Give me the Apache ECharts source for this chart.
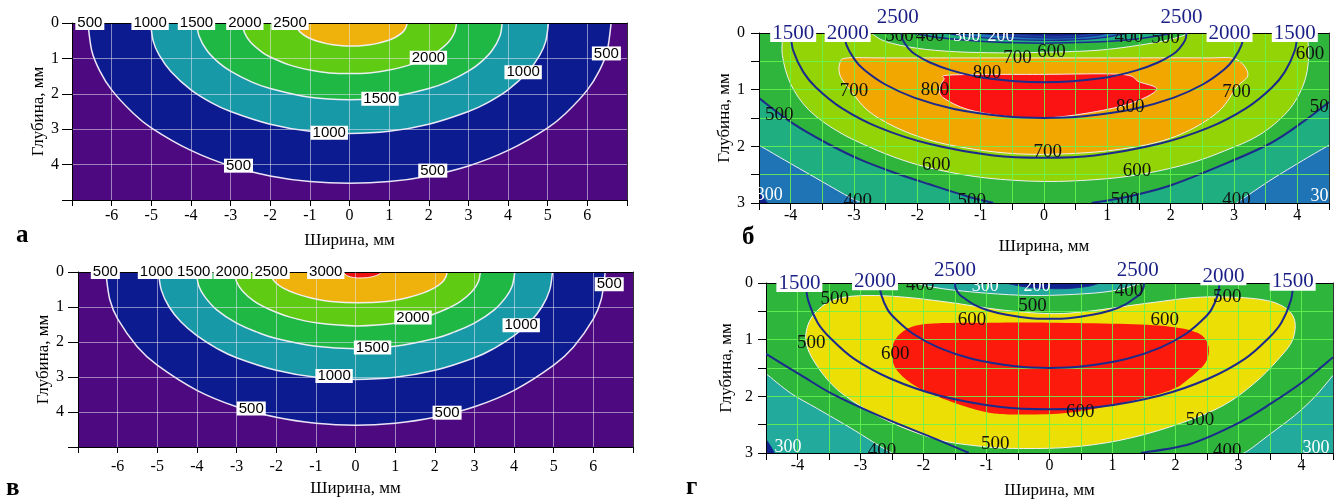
<!DOCTYPE html>
<html><head><meta charset="utf-8">
<script src="https://cdn.jsdelivr.net/npm/echarts@6/dist/echarts.min.js"></script>
<style>html,body{margin:0;padding:0;background:#fff}#c{width:1335px;height:503px}</style>
</head><body><div id="c"></div>
<script>
// ---------------- DATA (x = Ширина, мм ; y = Глубина, мм) ----------------
// Panel а : isotherm contours (x, depth)
const A_C500  = [[-6.6,0],[-6.5,0.79],[-6.3,1.35],[-6.0,1.89],[-5.5,2.5],[-5.0,2.96],[-4.0,3.6],[-3.0,4.04],[-2.0,4.32],[-1.0,4.48],[0,4.53],[1.0,4.48],[2.0,4.32],[3.0,4.04],[4.0,3.6],[5.0,2.96],[5.5,2.5],[6.0,1.89],[6.3,1.35],[6.5,0.79],[6.6,0]];
const A_C1000 = [[-5.02,0],[-4.95,0.52],[-4.8,0.91],[-4.5,1.38],[-4.0,1.89],[-3.5,2.24],[-3.0,2.5],[-2.0,2.86],[-1.0,3.06],[0,3.12],[1.0,3.06],[2.0,2.86],[3.0,2.5],[3.5,2.24],[4.0,1.89],[4.5,1.38],[4.8,0.91],[4.95,0.52],[5.02,0]];
const A_C1500 = [[-3.85,0],[-3.8,0.35],[-3.6,0.77],[-3.3,1.12],[-3.0,1.36],[-2.5,1.65],[-2.0,1.85],[-1.0,2.1],[0,2.17],[1.0,2.1],[2.0,1.85],[2.5,1.65],[3.0,1.36],[3.3,1.12],[3.6,0.77],[3.8,0.35],[3.85,0]];
const A_C2000 = [[-2.7,0],[-2.65,0.27],[-2.5,0.54],[-2.2,0.83],[-2.0,0.96],[-1.5,1.19],[-1.0,1.33],[-0.5,1.41],[0,1.43],[0.5,1.41],[1.0,1.33],[1.5,1.19],[2.0,0.96],[2.2,0.83],[2.5,0.54],[2.65,0.27],[2.7,0]];
const A_C2500 = [[-1.36,0],[-1.32,0.13],[-1.25,0.25],[-1.05,0.41],[-0.85,0.5],[-0.55,0.59],[-0.25,0.635],[0.05,0.65],[0.35,0.635],[0.65,0.59],[0.95,0.5],[1.15,0.41],[1.35,0.25],[1.42,0.13],[1.46,0]];
const A_LABELS = [[-6.55,0,500],[-5.03,0,1000],[-3.86,0,1500],[-2.64,0,2000],[-1.5,0,2500],[1.99,0.98,2000],[4.38,1.39,1000],[6.48,0.86,500],[0.77,2.14,1500],[-0.51,3.1,1000],[-2.8,4.03,500],[2.1,4.17,500]];

// Panel в
const V_C500  = [[-6.3,0],[-6.2,0.78],[-6.0,1.34],[-5.5,2.14],[-5.0,2.66],[-4.0,3.38],[-3.0,3.85],[-2.0,4.15],[-1.0,4.32],[0,4.38],[1.0,4.32],[2.0,4.15],[3.0,3.85],[4.0,3.38],[5.0,2.66],[5.5,2.14],[6.0,1.34],[6.2,0.78],[6.3,0]];
const V_C1000 = [[-4.97,0],[-4.9,0.51],[-4.7,1.0],[-4.4,1.43],[-4.0,1.82],[-3.5,2.18],[-3.0,2.45],[-2.0,2.81],[-1.0,3.01],[0,3.07],[1.0,3.01],[2.0,2.81],[3.0,2.45],[3.5,2.18],[4.0,1.82],[4.4,1.43],[4.7,1.0],[4.9,0.51],[4.97,0]];
const V_C1500 = [[-4.02,0],[-3.95,0.41],[-3.8,0.71],[-3.5,1.08],[-3.0,1.46],[-2.5,1.71],[-2.0,1.9],[-1.0,2.12],[0,2.19],[1.0,2.12],[2.0,1.9],[2.5,1.71],[3.0,1.46],[3.5,1.08],[3.8,0.71],[3.95,0.41],[4.02,0]];
const V_C2000 = [[-3.05,0],[-3.0,0.28],[-2.85,0.54],[-2.55,0.84],[-2.15,1.08],[-1.65,1.29],[-0.95,1.46],[0.05,1.54],[1.05,1.46],[1.75,1.29],[2.25,1.08],[2.65,0.84],[2.95,0.54],[3.1,0.28],[3.15,0]];
const V_C2500 = [[-2.15,0],[-2.12,0.14],[-2.02,0.3],[-1.82,0.46],[-1.52,0.61],[-1.12,0.74],[-0.62,0.84],[0.08,0.88],[0.78,0.84],[1.28,0.74],[1.68,0.61],[1.98,0.46],[2.18,0.3],[2.28,0.14],[2.31,0]];
const V_C3000 = [[-0.3,0],[-0.25,0.08],[-0.13,0.14],[0.05,0.17],[0.3,0.16],[0.5,0.11],[0.62,0.05],[0.66,0]];
const V_LABELS = [[-6.31,0,500],[-5.02,0,1000],[-4.08,0,1500],[-3.11,0,2000],[-2.13,0,2500],[-0.75,0,3000],[1.45,1.3,2000],[4.18,1.52,1000],[6.4,0.35,500],[0.43,2.16,1500],[-0.54,2.97,1000],[-2.63,3.9,500],[2.31,4.02,500]];

// Panel б : filled field contours
const B_CORNER_L = [[-4.5,3]];
const B_CORNER_R = [[4.5,3]];
const B_C500L = [[-4.5,1.15],[-3.96,1.6],[-3.42,1.95],[-2.89,2.24],[-2.35,2.47],[-1.81,2.67],[-1.22,2.88],[-0.8,3.0]];
const B_C500R = [[0.75,3.0],[1.28,2.9],[1.97,2.7],[2.77,2.35],[3.57,1.95],[4.1,1.56],[4.5,1.22]];
const B_C400L = [[-4.5,1.98],[-4.1,2.24],[-3.6,2.56],[-3.1,2.88],[-2.88,3.0]];
const B_C400R = [[3.04,3.0],[3.2,2.88],[3.6,2.58],[4.1,2.24],[4.5,1.98]];
const B_C300L = [[-4.5,2.82],[-4.42,2.92],[-4.36,3.0]];
const B_C600  = [[-4.12,0],[-4.13,0.4],[-4.0,0.9],[-3.72,1.35],[-3.28,1.72],[-2.78,2.0],[-2.24,2.24],[-1.65,2.42],[-0.9,2.56],[0,2.62],[0.9,2.58],[1.6,2.48],[2.3,2.3],[2.85,2.08],[3.4,1.8],[3.85,1.38],[4.1,0.9],[4.18,0.42],[4.15,0]];
const B_LENS600 = [[-2.73,0],[-2.5,0.15],[-2.0,0.27],[-1.4,0.33],[-0.7,0.35],[0,0.34],[0.9,0.3],[1.7,0.18],[2.1,0.08],[2.3,0]];
const B_C700  = [[-3.1,0.44],[-3.22,0.52],[-3.22,0.75],[-3.05,1.02],[-2.78,1.37],[-2.35,1.66],[-1.81,1.89],[-1.22,2.03],[-0.58,2.12],[0.07,2.14],[0.91,2.09],[1.71,1.95],[2.29,1.72],[2.77,1.37],[3.04,0.96],[3.22,0.73],[3.02,0.46],[2.5,0.44],[1.0,0.44],[-1.0,0.44],[-2.5,0.44]];
const B_C800  = [[-1.45,0.74],[0,0.73],[1.22,0.73],[1.5,0.86],[1.78,1.0],[1.35,1.25],[0.65,1.42],[0,1.5],[-0.6,1.47],[-1.2,1.35],[-1.58,1.15],[-1.65,1.0],[-1.58,0.82]];
const B_L500 = [[-2.1,0],[-1.6,0.09],[-0.8,0.16],[0,0.18],[0.8,0.16],[1.5,0.1],[2.05,0]];
const B_L400 = [[-1.6,0],[-1.0,0.08],[0,0.13],[0.8,0.1],[1.35,0]];
const B_L300 = [[-1.05,0],[-0.5,0.06],[0.2,0.09],[0.75,0.05],[1.0,0]];
const B_L200 = [[-0.55,0],[0,0.05],[0.5,0.04],[0.75,0]];
const B_N1500 = [[-4.0,0],[-3.96,0.31],[-3.8,0.69],[-3.6,0.96],[-3.2,1.32],[-2.6,1.67],[-1.8,1.96],[-0.8,2.16],[0,2.2],[0.8,2.16],[1.8,1.96],[2.6,1.67],[3.2,1.32],[3.6,0.96],[3.8,0.69],[3.96,0.31],[4.0,0]];
const B_N2000 = [[-3.15,0],[-3.12,0.21],[-2.99,0.47],[-2.84,0.65],[-2.52,0.9],[-2.05,1.14],[-1.42,1.34],[-0.63,1.47],[0,1.5],[0.63,1.47],[1.42,1.34],[2.05,1.14],[2.52,0.9],[2.84,0.65],[2.99,0.47],[3.12,0.21],[3.15,0]];
const B_N2500 = [[-2.25,0],[-2.23,0.12],[-2.14,0.27],[-2.03,0.38],[-1.8,0.52],[-1.46,0.66],[-1.01,0.78],[-0.45,0.85],[0,0.87],[0.45,0.85],[1.01,0.78],[1.46,0.66],[1.8,0.52],[2.03,0.38],[2.14,0.27],[2.23,0.12],[2.25,0]];
const B_LABELS_BLACK = [[-4.18,1.44,500],[-3.0,1.02,700],[-1.72,1.0,800],[-0.9,0.7,800],[-0.42,0.45,700],[0.12,0.33,600],[-1.7,2.33,600],[-2.94,2.96,400],[-1.14,2.96,500],[1.36,1.31,800],[3.04,1.05,700],[4.2,0.37,600],[4.42,1.31,500],[0.06,2.1,700],[1.47,2.43,600],[1.28,2.94,500],[3.04,2.95,400],[-2.28,0.05,500],[-1.8,0.05,400],[1.34,0.07,400],[1.92,0.09,500]];
const B_LABELS_WHITE = [[-4.34,2.87,300],[4.42,2.88,300],[-1.22,0.05,300],[-0.68,0.05,200]];
const B_LABELS_NAVY = [[-3.96,0,1500],[-3.1,0,2000],[-2.31,-0.28,2500],[2.17,-0.28,2500],[2.93,0,2000],[3.96,0,1500]];

// Panel г
const G_CORNER_L = [[-4.5,3]];
const G_CORNER_R = [[4.5,3]];
const G_C400L = [[-4.5,1.6],[-4.1,1.95],[-3.68,2.22],[-3.14,2.57],[-2.72,2.86],[-2.5,3.0]];
const G_C400R = [[3.08,3.0],[3.19,2.93],[3.51,2.66],[3.89,2.34],[4.21,2.01],[4.5,1.63]];
const G_C300L = [[-4.5,2.75],[-4.42,2.88],[-4.36,3.0]];
const G_NAVYL = [[-4.5,1.25],[-3.94,1.63],[-3.41,1.98],[-2.61,2.39],[-1.81,2.75],[-1.28,3.0]];
const G_NAVYR = [[1.45,3.0],[2.23,2.84],[2.98,2.48],[3.51,2.13],[4.05,1.72],[4.5,1.31]];
const G_C500 = [[-3.86,1.07],[-3.82,0.7],[-3.62,0.42],[-3.35,0.27],[-2.9,0.22],[-2.3,0.25],[-1.6,0.34],[-0.8,0.47],[0,0.54],[0.6,0.5],[1.6,0.35],[2.4,0.25],[3.2,0.27],[3.65,0.38],[3.88,0.62],[3.86,1.0],[3.62,1.36],[3.24,1.78],[2.71,2.19],[1.91,2.54],[1.1,2.78],[0.3,2.9],[-0.5,2.92],[-1.02,2.89],[-1.71,2.78],[-2.35,2.54],[-2.88,2.25],[-3.36,1.89],[-3.68,1.48]];
const G_C600 = [[-2.5,1.3],[-2.45,1.0],[-2.2,0.78],[-1.76,0.71],[-0.8,0.7],[0,0.7],[1.1,0.72],[1.91,0.77],[2.35,0.88],[2.52,1.1],[2.48,1.4],[2.2,1.7],[1.9,1.9],[1.1,2.13],[0.3,2.29],[-0.5,2.32],[-1.0,2.28],[-1.55,2.1],[-2.08,1.85],[-2.4,1.57]];
const G_L400 = [[-2.14,0],[-1.7,0.1],[-1.0,0.18],[-0.3,0.22],[0.4,0.2],[1.0,0.14],[1.47,0]];
const G_L300 = [[-0.7,0],[-0.3,0.08],[0.2,0.1],[0.6,0.06],[0.8,0]];
const G_N1500 = [[-3.87,0],[-3.83,0.31],[-3.68,0.7],[-3.48,0.97],[-3.1,1.34],[-2.52,1.69],[-1.74,1.99],[-0.77,2.19],[0,2.23],[0.77,2.19],[1.74,1.99],[2.52,1.69],[3.1,1.34],[3.48,0.97],[3.68,0.7],[3.83,0.31],[3.87,0]];
const G_N2000 = [[-2.7,0],[-2.67,0.21],[-2.57,0.47],[-2.43,0.65],[-2.16,0.9],[-1.76,1.14],[-1.22,1.34],[-0.54,1.47],[0,1.5],[0.54,1.47],[1.22,1.34],[1.76,1.14],[2.16,0.9],[2.43,0.65],[2.57,0.47],[2.67,0.21],[2.7,0]];
const G_N2500 = [[-1.5,0],[-1.49,0.09],[-1.43,0.2],[-1.35,0.27],[-1.2,0.38],[-0.98,0.48],[-0.68,0.56],[-0.3,0.62],[0,0.63],[0.3,0.62],[0.68,0.56],[0.98,0.48],[1.2,0.38],[1.35,0.27],[1.43,0.2],[1.49,0.09],[1.5,0]];
const G_LABELS_BLACK = [[-3.41,0.28,500],[-3.78,1.06,500],[-0.27,0.4,500],[2.82,0.25,500],[2.39,2.41,500],[-0.86,2.84,500],[-1.23,0.66,600],[-2.45,1.25,600],[1.83,0.66,600],[0.49,2.28,600],[-2.66,2.96,400],[2.82,2.96,400],[-2.05,0.03,400],[1.26,0.14,400]];
const G_LABELS_WHITE = [[-4.15,2.9,300],[4.23,2.92,300],[-1.02,0.05,300],[-0.2,0.05,200]];
const G_LABELS_NAVY = [[-3.97,0,1500],[-2.77,-0.03,2000],[-1.5,-0.22,2500],[1.4,-0.22,2500],[2.76,-0.12,2000],[3.86,-0.02,1500]];

// Axis ranges / ticks
const AV_X = {min:-7, max:7, interval:1};
const AV_Y = {min:0, max:5, interval:1};
const BG_X = {min:-4.5, max:4.5, interval:0.5};
const BG_Y = {min:0, max:3, interval:0.5};
const PANEL_LETTERS = ['а','б','в','г'];

// ---------------- STYLE ----------------
const SERIF = 'Liberation Serif', SANS = 'Liberation Sans';
const C = {purple:'#4d0a80', navy:'#0c1b8f', teal:'#1799a8', green:'#1fb845', lime:'#5fcb12', orange:'#efb20c', red:'#ee1111'};
const B = {bg:'#2fb53b', lime:'#92d405', orange:'#f2a600', red:'#fb1313', tealg:'#1fae80', steel:'#1e74b4', deep:'#12208c', blue:'#1b44a6'};
const G = {bg:'#2db53c', yellow:'#ebdf06', red:'#fb1a0c', teal:'#22aa9c', deep:'#10228e'};
const NAVYLINE = '#1c2a8c';
const WHITE_LINE = 'rgba(245,240,252,0.95)';

// ---------------- HELPERS ----------------
function crPath(P, closed) {
  const n = P.length;
  let d = 'M' + P[0][0] + ',' + P[0][1];
  if (n < 2) return d;
  const get = i => closed ? P[(i + n) % n] : P[Math.max(0, Math.min(n - 1, i))];
  const segs = closed ? n : n - 1;
  for (let i = 0; i < segs; i++) {
    const p0 = get(i - 1), p1 = get(i), p2 = get(i + 1), p3 = get(i + 2);
    const c1x = p1[0] + (p2[0] - p0[0]) / 6, c1y = p1[1] + (p2[1] - p0[1]) / 6;
    const c2x = p2[0] - (p3[0] - p1[0]) / 6, c2y = p2[1] - (p3[1] - p1[1]) / 6;
    d += ' C' + c1x + ',' + c1y + ' ' + c2x + ',' + c2y + ' ' + p2[0] + ',' + p2[1];
  }
  return d;
}
function region(g, curve, o) {
  return {
    type: 'custom', coordinateSystem: 'cartesian2d', xAxisIndex: g, yAxisIndex: g,
    clip: true, silent: true, z: o.z || 2, data: curve,
    renderItem: function (params, api) {
      if (params.dataIndex !== 0) return null;
      const P = curve.map(q => api.coord(q));
      const T = (o.tail || []).map(q => api.coord(q));
      const cd = crPath(P, !!o.closed);
      const ch = [];
      if (o.fill) {
        let d = cd; T.forEach(c => { d += ' L' + c[0] + ',' + c[1]; }); d += ' Z';
        ch.push({type: 'path', shape: {pathData: d}, style: {fill: o.fill, stroke: 'none'}});
      }
      if (o.stroke) {
        ch.push({type: 'path', shape: {pathData: cd + (o.closed ? ' Z' : '')}, style: {fill: 'none', stroke: o.stroke, lineWidth: o.lw || 1}});
      }
      return {type: 'group', children: ch};
    }
  };
}
function labels(g, arr, st, clip) {
  return {
    type: 'custom', coordinateSystem: 'cartesian2d', xAxisIndex: g, yAxisIndex: g,
    clip: clip, silent: true, z: 6, data: arr.map(a => [a[0], a[1]]),
    renderItem: function (params, api) {
      const c = api.coord([api.value(0), api.value(1)]);
      return {type: 'text', x: c[0], y: c[1],
        style: Object.assign({text: String(arr[params.dataIndex][2]), align: 'center', verticalAlign: 'middle'}, st)};
    }
  };
}
const isInt = v => Math.abs(v - Math.round(v)) < 1e-9;
function mainX(g, r, o) {
  return {gridIndex: g, type: 'value', min: r.min, max: r.max, interval: r.interval, position: 'bottom', z: 3,
    axisLine: {onZero: false, lineStyle: {color: '#000', width: 1}},
    axisTick: {show: true, length: o.tick, lineStyle: {color: '#000'}},
    axisLabel: {margin: o.margin, color: '#000', fontFamily: SERIF, fontSize: 16,
      formatter: v => (isInt(v) && Math.abs(v) < r.max - 0.01) ? String(Math.round(v)) : ''},
    splitLine: {show: true, lineStyle: {color: o.grid, width: 1}},
    name: 'Ширина, мм', nameLocation: 'middle', nameGap: o.nameGap,
    nameTextStyle: {color: '#000', fontFamily: SERIF, fontSize: 17}};
}
function mainY(g, r, o) {
  return {gridIndex: g, type: 'value', inverse: true, min: r.min, max: r.max, interval: r.interval, position: 'left', z: 3,
    axisLine: {onZero: false, lineStyle: {color: '#000', width: 1}},
    axisTick: {show: true, length: o.tick, lineStyle: {color: '#000'}},
    axisLabel: {margin: o.margin, color: '#000', fontFamily: SERIF, fontSize: 16,
      formatter: v => (isInt(v) && v < o.lastLabel + 0.01) ? String(Math.round(v)) : ''},
    splitLine: {show: true, lineStyle: {color: o.grid, width: 1}},
    name: 'Глубина, мм', nameLocation: 'middle', nameGap: o.nameGap, nameRotate: 90,
    nameTextStyle: {color: '#000', fontFamily: SERIF, fontSize: 17}};
}
function borderX(g, r) {
  return {gridIndex: g, type: 'value', min: r.min, max: r.max, position: 'top', z: 3,
    axisLine: {show: true, onZero: false, lineStyle: {color: '#000', width: 1}},
    axisTick: {show: false}, axisLabel: {show: false}, splitLine: {show: false}};
}
function borderY(g, r) {
  return {gridIndex: g, type: 'value', inverse: true, min: r.min, max: r.max, position: 'right', z: 3,
    axisLine: {show: true, onZero: false, lineStyle: {color: '#333', width: 1}},
    axisTick: {show: false}, axisLabel: {show: false}, splitLine: {show: false}};
}

const GRID_AV = 'rgba(232,228,240,0.55)';
const GRID_BG = 'rgba(105,245,80,0.85)';

const grids = [
  {left: 72, top: 23, width: 555, height: 177, show: true, backgroundColor: C.purple, borderWidth: 0, outerBoundsMode: 'none'},
  {left: 759, top: 33, width: 570, height: 170, show: true, backgroundColor: B.bg, borderWidth: 0, outerBoundsMode: 'none'},
  {left: 78, top: 272, width: 555, height: 175, show: true, backgroundColor: C.purple, borderWidth: 0, outerBoundsMode: 'none'},
  {left: 766, top: 283, width: 567, height: 170, show: true, backgroundColor: G.bg, borderWidth: 0, outerBoundsMode: 'none'}
];

const xAxes = [
  mainX(0, AV_X, {tick: 6, margin: 8, grid: GRID_AV, nameGap: 32}),
  mainX(1, BG_X, {tick: 7, margin: 5, grid: GRID_BG, nameGap: 35}),
  mainX(2, AV_X, {tick: 6, margin: 12, grid: GRID_AV, nameGap: 33}),
  mainX(3, BG_X, {tick: 7, margin: 5, grid: GRID_BG, nameGap: 29}),
  borderX(0, AV_X), borderX(1, BG_X), borderX(2, AV_X), borderX(3, BG_X)
];
const yAxes = [
  mainY(0, AV_Y, {tick: 10, margin: 13, grid: GRID_AV, nameGap: 23, lastLabel: 4}),
  mainY(1, BG_Y, {tick: 8, margin: 14, grid: GRID_BG, nameGap: 24, lastLabel: 3}),
  mainY(2, AV_Y, {tick: 10, margin: 14, grid: GRID_AV, nameGap: 23, lastLabel: 4}),
  mainY(3, BG_Y, {tick: 8, margin: 13, grid: GRID_BG, nameGap: 31, lastLabel: 3}),
  borderY(0, AV_Y), borderY(1, BG_Y), borderY(2, AV_Y), borderY(3, BG_Y)
];

const AV_LABEL_STYLE = {fill: '#000', fontFamily: SANS, fontSize: 15, lineHeight: 14, backgroundColor: '#fff', padding: [0, 2]};
const BLACK_STYLE = {fill: '#111', fontFamily: SERIF, fontSize: 19};
const WHITE_STYLE = {fill: '#fff', fontFamily: SERIF, fontSize: 18};
const NAVY_STYLE = {fill: '#1a1f86', fontFamily: SERIF, fontSize: 21, lineHeight: 18, backgroundColor: '#fff', padding: [0, 2]};

const series = [
  // ---- а ----
  region(0, A_C500, {fill: C.navy, stroke: WHITE_LINE, lw: 1.5}),
  region(0, A_C1000, {fill: C.teal, stroke: WHITE_LINE, lw: 1.5}),
  region(0, A_C1500, {fill: C.green, stroke: WHITE_LINE, lw: 1.5}),
  region(0, A_C2000, {fill: C.lime, stroke: WHITE_LINE, lw: 1.5}),
  region(0, A_C2500, {fill: C.orange, stroke: WHITE_LINE, lw: 1.5}),
  labels(0, A_LABELS, AV_LABEL_STYLE, false),
  // ---- в ----
  region(2, V_C500, {fill: C.navy, stroke: WHITE_LINE, lw: 1.5}),
  region(2, V_C1000, {fill: C.teal, stroke: WHITE_LINE, lw: 1.5}),
  region(2, V_C1500, {fill: C.green, stroke: WHITE_LINE, lw: 1.5}),
  region(2, V_C2000, {fill: C.lime, stroke: WHITE_LINE, lw: 1.5}),
  region(2, V_C2500, {fill: C.orange, stroke: WHITE_LINE, lw: 1.5}),
  region(2, V_C3000, {fill: C.red, stroke: WHITE_LINE, lw: 1}),
  labels(2, V_LABELS, AV_LABEL_STYLE, false),
  // ---- б ----
  region(1, B_C500L, {fill: B.tealg, stroke: NAVYLINE, lw: 2, tail: B_CORNER_L}),
  region(1, B_C500R, {fill: B.tealg, stroke: NAVYLINE, lw: 2, tail: B_CORNER_R}),
  region(1, B_C400L, {fill: B.steel, stroke: WHITE_LINE, lw: 1, tail: B_CORNER_L}),
  region(1, B_C400R, {fill: B.steel, stroke: WHITE_LINE, lw: 1, tail: B_CORNER_R}),
  region(1, B_C300L, {fill: B.deep, tail: B_CORNER_L}),
  region(1, B_C600, {fill: B.lime, stroke: WHITE_LINE, lw: 1}),
  region(1, B_LENS600, {fill: B.bg, stroke: WHITE_LINE, lw: 1}),
  region(1, B_C700, {fill: B.orange, stroke: WHITE_LINE, lw: 1, closed: true}),
  region(1, B_C800, {fill: B.red, stroke: WHITE_LINE, lw: 1, closed: true}),
  region(1, B_L500, {fill: B.tealg, stroke: NAVYLINE, lw: 1.5}),
  region(1, B_L400, {fill: B.steel, stroke: NAVYLINE, lw: 1.2}),
  region(1, B_L300, {fill: B.blue, stroke: NAVYLINE, lw: 1.2}),
  region(1, B_L200, {fill: B.deep, stroke: NAVYLINE, lw: 1}),
  region(1, B_N1500, {stroke: NAVYLINE, lw: 2, z: 4}),
  region(1, B_N2000, {stroke: NAVYLINE, lw: 2, z: 4}),
  region(1, B_N2500, {stroke: NAVYLINE, lw: 2, z: 4}),
  labels(1, B_LABELS_BLACK, BLACK_STYLE, true),
  labels(1, B_LABELS_WHITE, WHITE_STYLE, true),
  labels(1, B_LABELS_NAVY, NAVY_STYLE, false),
  // ---- г ----
  region(3, G_C400L, {fill: G.teal, stroke: WHITE_LINE, lw: 1, tail: G_CORNER_L}),
  region(3, G_C400R, {fill: G.teal, stroke: WHITE_LINE, lw: 1, tail: G_CORNER_R}),
  region(3, G_C300L, {fill: G.deep, tail: G_CORNER_L}),
  region(3, G_C500, {fill: G.yellow, stroke: WHITE_LINE, lw: 1, closed: true}),
  region(3, G_C600, {fill: G.red, closed: true}),
  region(3, G_L400, {fill: G.teal, stroke: WHITE_LINE, lw: 1}),
  region(3, G_L300, {fill: G.deep, stroke: NAVYLINE, lw: 1}),
  region(3, G_NAVYL, {stroke: NAVYLINE, lw: 2, z: 4}),
  region(3, G_NAVYR, {stroke: NAVYLINE, lw: 2, z: 4}),
  region(3, G_N1500, {stroke: NAVYLINE, lw: 2, z: 4}),
  region(3, G_N2000, {stroke: NAVYLINE, lw: 2, z: 4}),
  region(3, G_N2500, {stroke: NAVYLINE, lw: 2, z: 4}),
  labels(3, G_LABELS_BLACK, BLACK_STYLE, true),
  labels(3, G_LABELS_WHITE, WHITE_STYLE, true),
  labels(3, G_LABELS_NAVY, NAVY_STYLE, false)
];

const LETTER_POS = [[16, 236], [742, 238], [6, 489], [686, 488]];
const graphic = PANEL_LETTERS.map((t, i) => ({
  type: 'text', x: LETTER_POS[i][0], y: LETTER_POS[i][1], z: 10,
  style: {text: t, fill: '#000', font: 'bold 25px "Liberation Serif"', verticalAlign: 'middle'}
}));

const chart = echarts.init(document.getElementById('c'));
chart.setOption({
  animation: false,
  backgroundColor: '#fff',
  grid: grids,
  xAxis: xAxes,
  yAxis: yAxes,
  series: series,
  graphic: graphic
});
</script></body></html>
